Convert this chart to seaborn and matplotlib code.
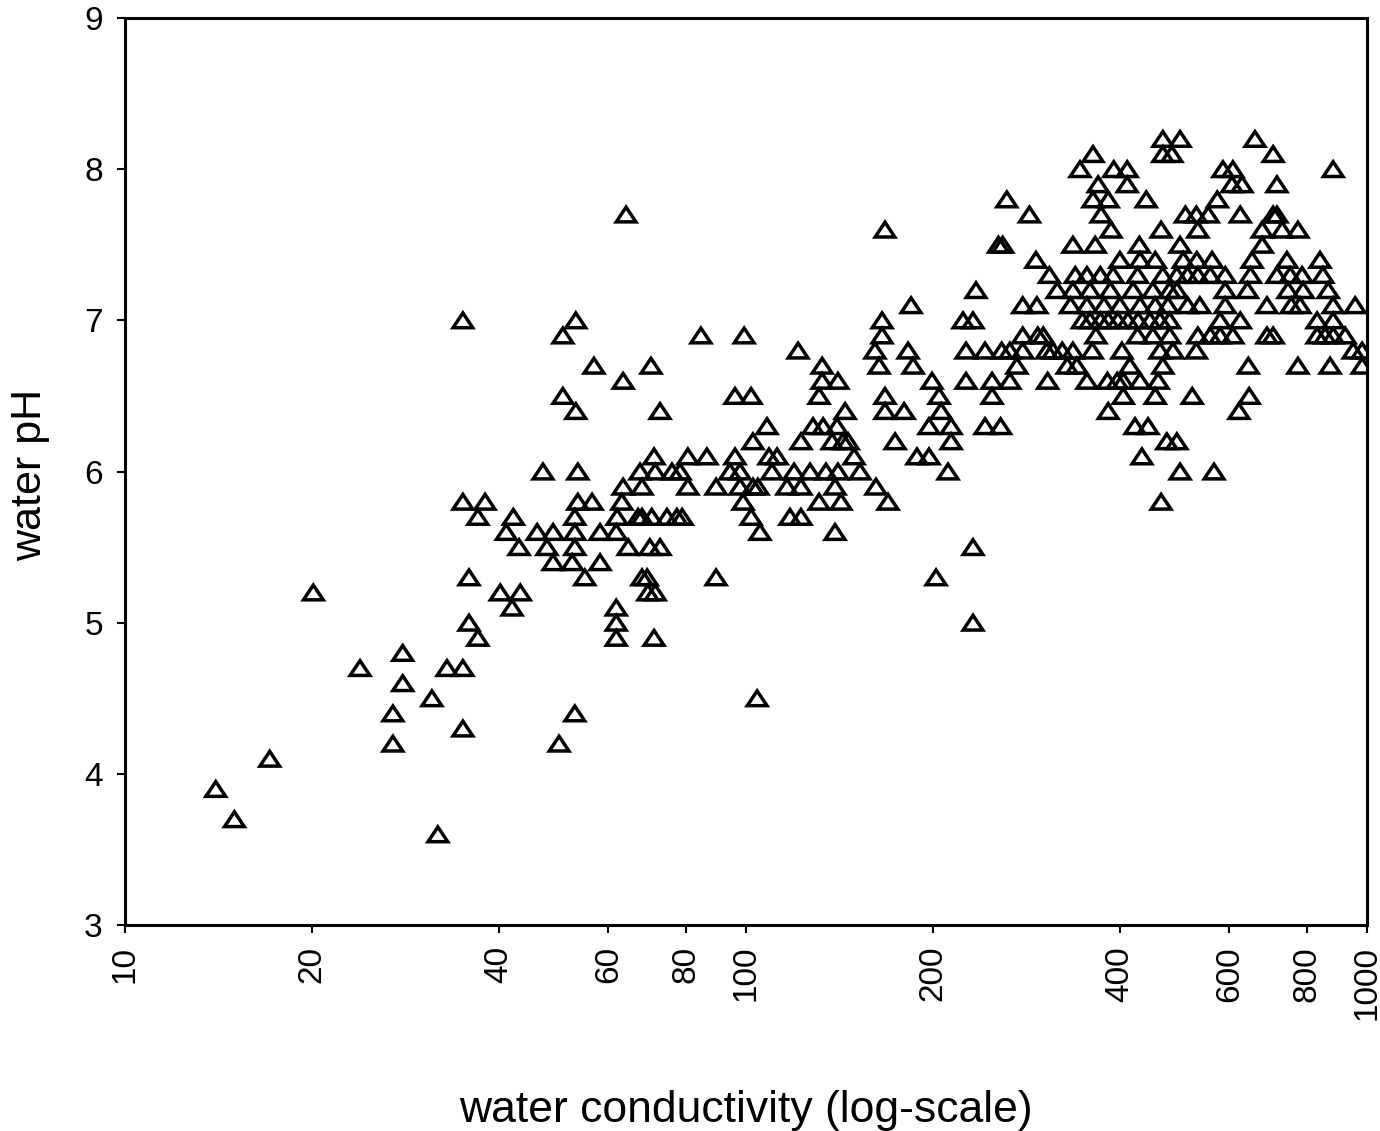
import numpy as np
import pandas as pd
import matplotlib
matplotlib.use("Agg")
import matplotlib.pyplot as plt
from matplotlib.markers import MarkerStyle
from matplotlib.path import Path
from matplotlib.ticker import FixedLocator, FixedFormatter, NullLocator
import seaborn as sns

# (water conductivity, water pH) pairs
sites_low = [
    (20.1, 5.2), (35.8, 5.3), (40.2, 5.2), (43.3, 5.2), (42.0, 5.1), (35.8, 5.0),
    (37.0, 4.9), (28.0, 4.8), (23.9, 4.7), (33.0, 4.7), (35.0, 4.7), (28.0, 4.6),
    (31.2, 4.5), (27.0, 4.4), (35.0, 4.3), (27.0, 4.2), (17.1, 4.1), (14.0, 3.9),
    (15.0, 3.7), (31.9, 3.6), (35.0, 7.0), (35.0, 5.8), (38.0, 5.8), (37.0, 5.7),
    (42.2, 5.7), (41.1, 5.6), (46.1, 5.6), (43.1, 5.5),
]

sites_mid = [
    (64.1, 7.7), (53.2, 7.0), (50.7, 6.9), (84.6, 6.9), (99.3, 6.9),
    (56.9, 6.7), (70.3, 6.7), (63.4, 6.6), (50.7, 6.5), (96.0, 6.5), (101.9, 6.5),
    (53.2, 6.4), (72.7, 6.4), (108.1, 6.3), (102.6, 6.2),
    (71.1, 6.1), (80.6, 6.1), (86.5, 6.1), (96.0, 6.1), (108.9, 6.1), (112.2, 6.1),
    (47.1, 6.0), (53.6, 6.0), (67.5, 6.0), (71.4, 6.0), (76.0, 6.0), (78.3, 6.0),
    (94.2, 6.0), (97.8, 6.0), (110.1, 6.0),
    (63.4, 5.9), (68.0, 5.9), (80.6, 5.9), (89.5, 5.9), (97.8, 5.9), (102.6, 5.9),
    (104.5, 5.9), (116.4, 5.9),
    (53.6, 5.8), (56.5, 5.8), (63.1, 5.8), (98.9, 5.8),
    (53.0, 5.7), (62.0, 5.7), (67.0, 5.7), (68.0, 5.7), (70.5, 5.7), (74.6, 5.7),
    (77.4, 5.7), (78.9, 5.7), (101.9, 5.7), (117.7, 5.7),
    (48.9, 5.6), (53.0, 5.6), (58.2, 5.6), (61.8, 5.6), (105.3, 5.6),
    (47.8, 5.5), (53.0, 5.5), (64.6, 5.5), (70.0, 5.5), (72.7, 5.5),
    (48.9, 5.4), (52.5, 5.4), (58.2, 5.4),
    (55.0, 5.3), (68.0, 5.3), (69.3, 5.3), (89.5, 5.3),
    (69.5, 5.2), (71.4, 5.2), (61.8, 5.1), (61.8, 5.0), (61.8, 4.9), (71.1, 4.9),
    (104.2, 4.5), (53.0, 4.4), (50.0, 4.2),
]

sites_upper = [
    (167.4, 7.6), (234.6, 7.2), (184.4, 7.1),
    (165.6, 7.0), (223.6, 7.0), (232.0, 7.0), (165.6, 6.9),
    (121.3, 6.8), (161.3, 6.8), (182.4, 6.8), (226.1, 6.8), (242.6, 6.8),
    (132.6, 6.7), (163.8, 6.7), (185.8, 6.7),
    (132.6, 6.6), (140.6, 6.6), (199.3, 6.6), (226.1, 6.6),
    (131.1, 6.5), (167.4, 6.5), (204.6, 6.5),
    (144.4, 6.4), (167.4, 6.4), (179.7, 6.4), (206.1, 6.4),
    (128.2, 6.3), (133.1, 6.3), (140.1, 6.3), (197.1, 6.3), (213.9, 6.3), (242.6, 6.3),
    (122.6, 6.2), (137.6, 6.2), (143.3, 6.2), (146.0, 6.2), (173.8, 6.2), (213.9, 6.2),
    (149.3, 6.1), (188.5, 6.1), (197.1, 6.1),
    (119.5, 6.0), (126.8, 6.0), (134.5, 6.0), (140.6, 6.0), (152.6, 6.0), (211.5, 6.0),
    (122.6, 5.9), (139.1, 5.9), (161.9, 5.9),
    (131.1, 5.8), (142.2, 5.8), (169.3, 5.8),
    (122.6, 5.7), (139.1, 5.6), (232.0, 5.5), (202.3, 5.3), (232.0, 5.0),
]

sites_high = [
    (469, 8.2), (500, 8.2), (660, 8.2),
    (362, 8.1), (469, 8.1), (485, 8.1), (706, 8.1),
    (345, 8.0), (391, 8.0), (411, 8.0), (586, 8.0), (608, 8.0), (882, 8.0),
    (369, 7.9), (411, 7.9), (606, 7.9), (629, 7.9), (716, 7.9),
    (263, 7.8), (362, 7.8), (383, 7.8), (441, 7.8), (574, 7.8),
    (286, 7.7), (373, 7.7), (510, 7.7), (531, 7.7), (555, 7.7), (625, 7.7), (706, 7.7), (716, 7.7),
    (387, 7.6), (466, 7.6), (534, 7.6), (678, 7.6), (730, 7.6), (774, 7.6),
    (255, 7.5), (259, 7.5), (336, 7.5), (365, 7.5), (430, 7.5), (500, 7.5), (678, 7.5),
    (293, 7.4), (400, 7.4), (431, 7.4), (456, 7.4), (506, 7.4), (532, 7.4), (563, 7.4),
    (653, 7.4), (743, 7.4), (840, 7.4),
    (308, 7.3), (339, 7.3), (354, 7.3), (372, 7.3), (390, 7.3), (427, 7.3), (469, 7.3),
    (494, 7.3), (514, 7.3), (534, 7.3), (559, 7.3), (591, 7.3), (649, 7.3), (716, 7.3),
    (752, 7.3), (786, 7.3), (849, 7.3),
    (317, 7.2), (336, 7.2), (358, 7.2), (386, 7.2), (420, 7.2), (452, 7.2), (481, 7.2),
    (494, 7.2), (591, 7.2), (642, 7.2), (746, 7.2), (789, 7.2), (866, 7.2),
    (279, 7.1), (294, 7.1), (333, 7.1), (354, 7.1), (377, 7.1), (400, 7.1), (431, 7.1),
    (456, 7.1), (478, 7.1), (514, 7.1), (538, 7.1), (591, 7.1), (690, 7.1), (755, 7.1),
    (780, 7.1), (882, 7.1), (957, 7.1),
    (348, 7.0), (358, 7.0), (372, 7.0), (383, 7.0), (397, 7.0), (412, 7.0), (428, 7.0),
    (447, 7.0), (464, 7.0), (481, 7.0), (580, 7.0), (625, 7.0), (831, 7.0), (882, 7.0),
    (279, 6.9), (295, 6.9), (301, 6.9), (366, 6.9), (427, 6.9), (452, 6.9), (481, 6.9),
    (534, 6.9), (559, 6.9), (580, 6.9), (608, 6.9), (690, 6.9), (706, 6.9), (831, 6.9),
    (856, 6.9), (882, 6.9), (922, 6.9),
    (258, 6.8), (266, 6.8), (279, 6.8), (305, 6.8), (312, 6.8), (323, 6.8), (336, 6.8),
    (361, 6.8), (403, 6.8), (464, 6.8), (487, 6.8), (531, 6.8), (950, 6.8), (982, 6.8),
    (273, 6.7), (329, 6.7), (341, 6.7), (415, 6.7), (469, 6.7), (644, 6.7), (774, 6.7),
    (872, 6.7), (982, 6.7),
    (249, 6.6), (266, 6.6), (306, 6.6), (354, 6.6), (382, 6.6), (396, 6.6), (405, 6.6),
    (431, 6.6), (461, 6.6),
    (249, 6.5), (405, 6.5), (456, 6.5), (523, 6.5), (646, 6.5),
    (383, 6.4), (622, 6.4),
    (257, 6.3), (423, 6.3), (444, 6.3),
    (476, 6.2), (494, 6.2), (434, 6.1), (500, 6.0), (567, 6.0), (466, 5.8),
]

x_ticks = [10, 20, 40, 60, 80, 100, 200, 400, 600, 800, 1000]
x_tick_labels = ["10", "20", "40", "60", "80", "100", "200", "400", "600", "800", "1000"]
y_ticks = [3, 4, 5, 6, 7, 8, 9]
y_tick_labels = ["3", "4", "5", "6", "7", "8", "9"]

sns.set_theme(style="white")
plt.rcParams["font.family"] = ["Liberation Sans", "DejaVu Sans"]

df = pd.DataFrame(sites_low + sites_mid + sites_upper + sites_high,
                  columns=["conductivity", "pH"])

fig = plt.figure(figsize=(13.8, 11.31), dpi=100)
ax = fig.add_axes([0.0906, 0.1821, 0.9, 0.802])

tri_path = Path([(0, 0.75), (-1, -0.75), (1, -0.75), (0, 0.75)],
                [Path.MOVETO, Path.LINETO, Path.LINETO, Path.CLOSEPOLY])
tri = MarkerStyle(tri_path)

sns.scatterplot(data=df, x="conductivity", y="pH", marker=tri, s=200,
                color="black", facecolors="none", edgecolor="black",
                linewidth=2.5, ax=ax, zorder=3, legend=False)
for coll in ax.collections:
    coll.set_joinstyle("miter")

ax.set_xscale("log")
ax.set_xlim(10, 1000)
ax.set_ylim(3, 9)
ax.xaxis.set_major_locator(FixedLocator(x_ticks))
ax.xaxis.set_major_formatter(FixedFormatter(x_tick_labels))
ax.xaxis.set_minor_locator(NullLocator())
ax.yaxis.set_major_locator(FixedLocator(y_ticks))
ax.yaxis.set_major_formatter(FixedFormatter(y_tick_labels))
ax.yaxis.set_minor_locator(NullLocator())

ax.tick_params(axis="both", which="major", direction="out", length=6, width=1.5,
               color="black", labelcolor="black", labelsize=24, pad=10,
               bottom=True, left=True, top=False, right=False)
ax.tick_params(axis="x", labelrotation=90, pad=9)

for sp in ax.spines.values():
    sp.set_visible(True)
    sp.set_color("black")
    sp.set_linewidth(2.2)

ax.set_xlabel("water conductivity (log-scale)", fontsize=32, color="black")
ax.set_ylabel("water pH", fontsize=31, color="black")
ax.xaxis.set_label_coords(0.5, -0.182)
ax.yaxis.set_label_coords(-0.06, 0.496)
ax.grid(False)

fig.savefig("out.png", dpi=100, facecolor="white")
